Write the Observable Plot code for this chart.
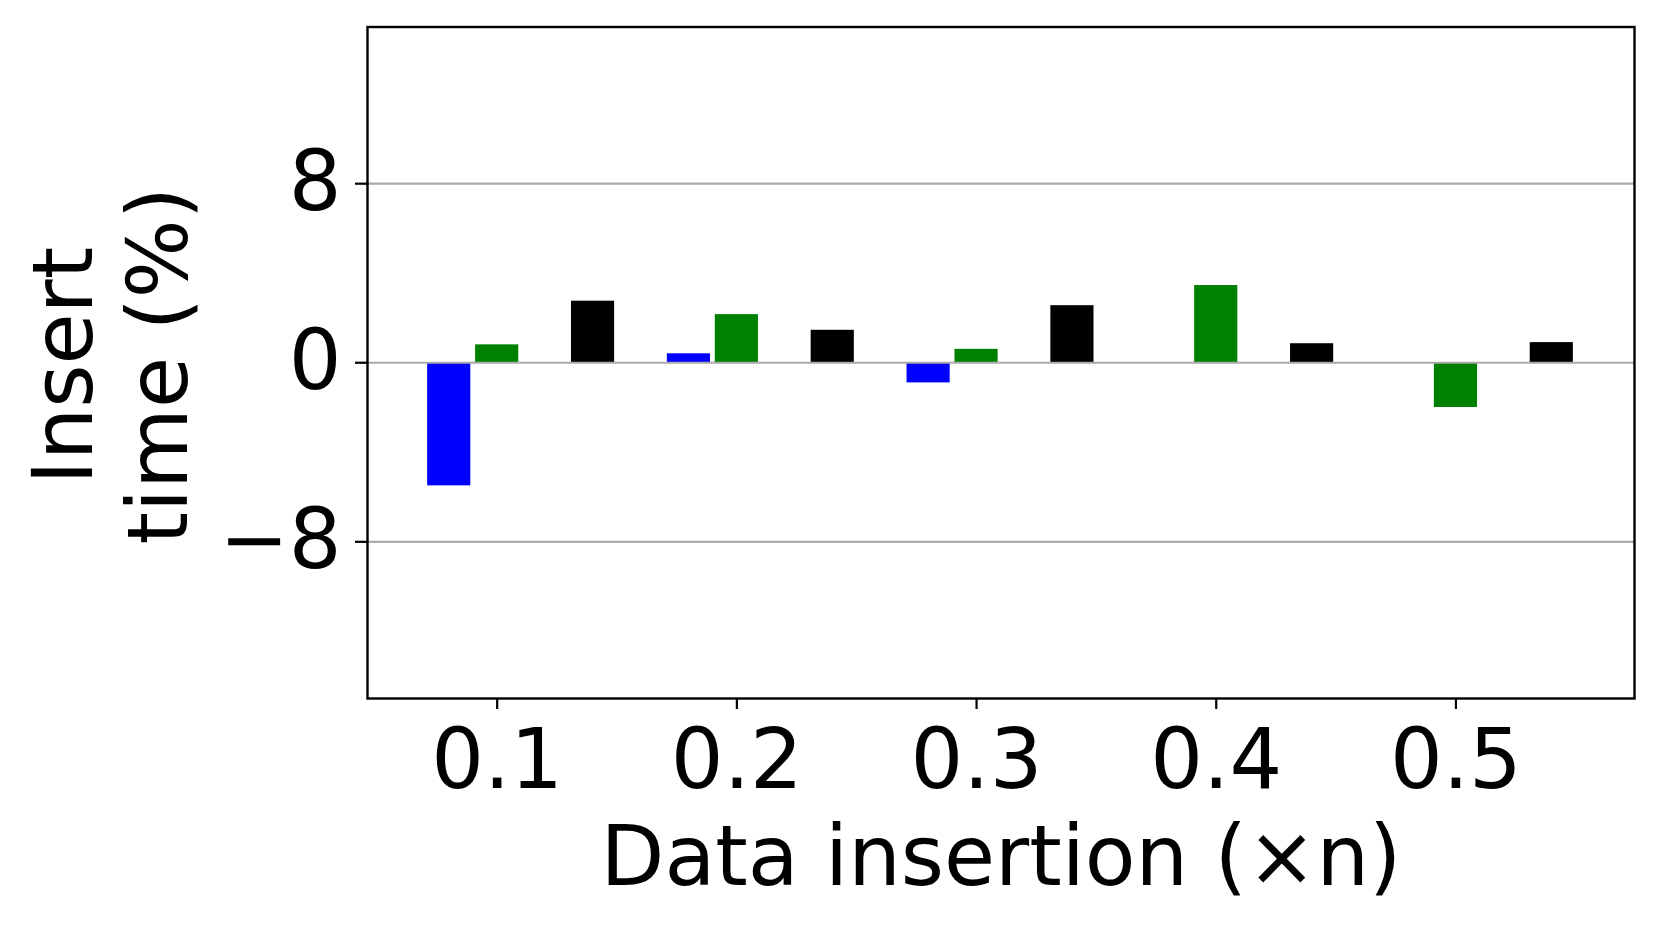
<!DOCTYPE html>
<html><head><meta charset="utf-8">
<script src="https://cdn.jsdelivr.net/npm/d3@7"></script>
<script src="https://cdn.jsdelivr.net/npm/@observablehq/plot@0.6"></script>
<style>html,body{margin:0;padding:0;background:#fff;overflow:hidden}</style>
</head><body><div id="chart"></div>
<script>
// Data
const categories = [0.1, 0.2, 0.3, 0.4, 0.5];
const blueSeries  = [-5.5, 0.4, -0.9, 0, 0];
const greenSeries = [0.8, 2.15, 0.6, 3.45, -2.0];
const blackSeries = [2.75, 1.45, 2.55, 0.85, 0.9];
const yTicks = [-8, 0, 8];
const xLabel = "Data insertion (×n)";
const yLabel = "Insert\ntime (%)";

const seriesNames = ["blue", "green", "black"];
const seriesColors = ["#0000ff", "#008000", "#000000"];
const seriesValues = [blueSeries, greenSeries, blackSeries];
const seriesOffsets = [-0.02, 0, 0.04];
const barWidth = 0.018;

const rows = seriesNames.flatMap((name, s) => categories.map((c, i) => ({
  cat: c, series: name, value: seriesValues[s][i],
  x1: c + seriesOffsets[s] - barWidth / 2,
  x2: c + seriesOffsets[s] + barWidth / 2
})));

const FS = 83;
const chart = Plot.plot({
  width: 1661, height: 928,
  marginLeft: 367, marginRight: 27, marginTop: 26.5, marginBottom: 230,
  style: {fontFamily: "'DejaVu Sans', sans-serif", fontSize: FS + "px", background: "#fff", color: "#000"},
  x: {type: "linear", domain: [0.0459, 0.5745], axis: null},
  y: {domain: [-15, 15], axis: null},
  color: {domain: seriesNames, range: seriesColors},
  marks: [
    Plot.rect(rows, {x1: "x1", x2: "x2", y1: () => 0, y2: "value", fill: "series"}),
    Plot.ruleY(yTicks, {stroke: "#aaaaaa", strokeWidth: 2.2}),
    Plot.frame({stroke: "#000", strokeWidth: 2.4}),
    Plot.axisY(yTicks, {tickSize: 12, tickPadding: 14, fontSize: FS, strokeWidth: 2.2, label: null,
      tickFormat: d => d < 0 ? "\u2212" + (-d) : String(d)}),
    Plot.axisX(categories, {tickSize: 11, tickPadding: 20, fontSize: FS, strokeWidth: 2.2, label: null,
      tickFormat: d => d.toFixed(1)}),
    Plot.text([xLabel], {frameAnchor: "bottom", dy: 186, lineAnchor: "bottom", textAnchor: "middle",
      fontSize: FS, text: d => d, fill: "#000"}),
    Plot.text([yLabel], {frameAnchor: "left", rotate: -90, dx: -258, dy: 3, lineAnchor: "middle", textAnchor: "middle",
      lineHeight: 1.14, fontSize: FS, text: d => d, fill: "#000"})
  ]
});
document.getElementById("chart").appendChild(chart);
</script>
</body></html>
